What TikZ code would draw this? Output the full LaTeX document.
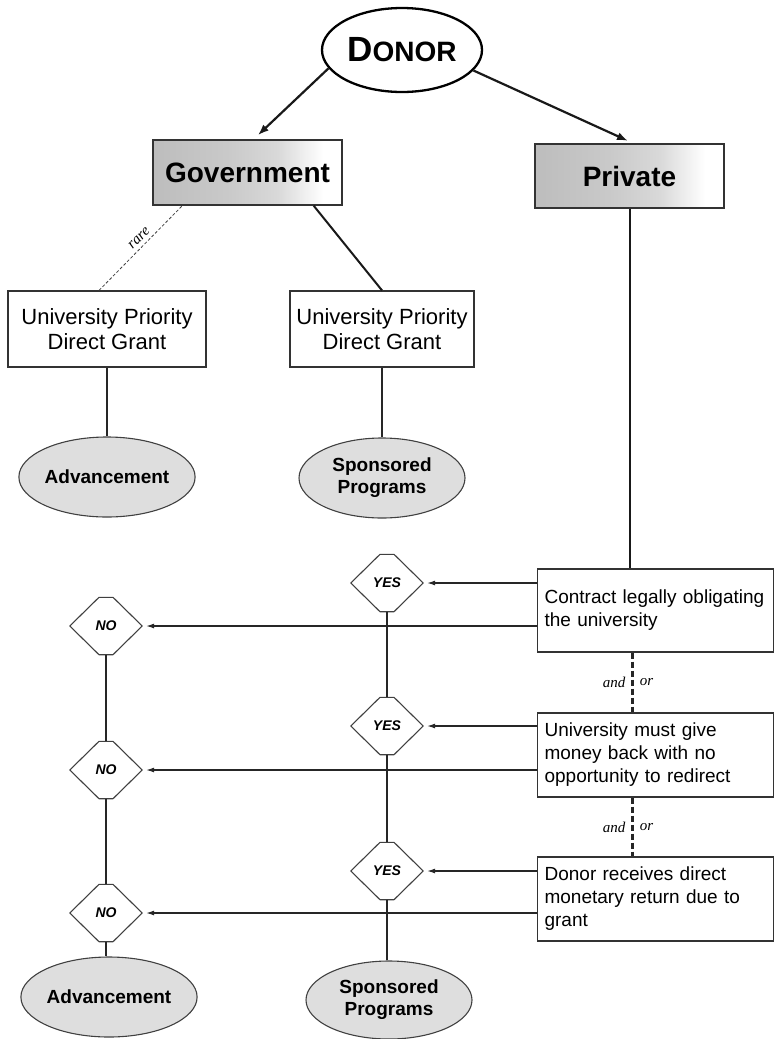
\documentclass[tikz,border=0pt]{standalone}
\usepackage{fontspec}
\setmainfont{Liberation Sans}
\newfontfamily\serifit{Liberation Serif}
\usetikzlibrary{arrows.meta,shapes.geometric}
\pgfdeclarehorizontalshading{boxshade}{100bp}{color(0bp)=(black!26); color(25bp)=(black!26); color(45bp)=(black!21); color(58bp)=(black!15); color(70bp)=(white); color(100bp)=(white)}
\begin{document}
\begin{tikzpicture}[x=1pt,y=-1pt,
  thin line/.style={line width=1.1pt, draw=black!85},
  thick line/.style={line width=2.2pt, draw=black!90},
  big arrow/.style={thick line, -{Latex[length=11pt,width=8pt]}, shorten >=6pt},
  small arrow/.style={thin line, -{Latex[length=8pt,width=5pt]}, shorten >=4pt},
  andor/.style={line width=2.6pt, draw=black!85, dash pattern=on 6pt off 3pt},
  catbox/.style={rectangle, draw=black!80, line width=1.3pt, shading=boxshade,
    minimum width=189pt, minimum height=65pt, inner sep=0pt,
    font=\fontsize{28}{30}\selectfont\bfseries},
  grantbox/.style={rectangle, draw=black!80, line width=1.2pt, fill=white,
    minimum height=76pt, inner sep=0pt, align=center,
    font=\fontsize{22}{25}\selectfont},
  condbox/.style={rectangle, draw=black!80, line width=1.2pt, fill=white, anchor=west,
    text width=222pt, inner xsep=7pt, inner ysep=0pt, minimum height=84pt, align=left,
    font=\fontsize{19}{23}\selectfont},
  officeell/.style={ellipse, draw=black!75, line width=1.1pt, fill=black!13,
    inner sep=0pt, align=center, font=\fontsize{19}{22}\selectfont\bfseries},
  hexnode/.style={rectangle, minimum width=72pt, minimum height=57pt, inner sep=0pt,
    font=\fontsize{14}{14}\selectfont\bfseries\itshape},
  hexline/.style={line width=1.1pt, draw=black!75},
  smalllabel/.style={font=\fontsize{15}{15}\selectfont\serifit\itshape, inner sep=2pt}
]
\useasboundingbox (0,0) rectangle (774,1039);

% top level
\node[ellipse, draw=black, line width=2.3pt, fill=white, minimum width=160pt, minimum height=84pt, inner sep=0pt,
  font=\bfseries] (donor) at (402,50) {{\fontsize{35}{35}\selectfont D}{\fontsize{28}{28}\selectfont ONOR}};
\node[catbox] (gov) at (247.5,172.5) {Government};
\node[catbox, minimum height=64pt] (private) at (629.5,176) {Private};

% government branch
\node[grantbox, minimum width=198pt] (updgL) at (107,329) {University Priority\\Direct Grant};
\node[grantbox, minimum width=184pt] (updgR) at (382,329) {University Priority\\Direct Grant};
\node[officeell, minimum width=170pt, minimum height=80pt] (adv1) at (107,477) {Advancement};
\node[officeell, minimum width=166pt, minimum height=80pt] (spons1) at (382,478) {Sponsored\\Programs};

% private branch conditions
\node[condbox, minimum height=83pt] (contract) at (537,610.5) {Contract legally obligating\\the university};
\node[condbox] (moneyback) at (537,755) {University must give\\money back with no\\opportunity to redirect};
\node[condbox] (monreturn) at (537,899) {Donor receives direct\\monetary return due to\\grant};

% decisions
\node[hexnode] (yes1) at (387,583) {YES};
\node[hexnode] (yes2) at (387,726) {YES};
\node[hexnode] (yes3) at (387,871) {YES};
\node[hexnode] (no1) at (106,626) {NO};
\node[hexnode] (no2) at (106,770) {NO};
\node[hexnode] (no3) at (106,913) {NO};
\foreach \n in {yes1,yes2,yes3,no1,no2,no3}
  \draw[hexline] (\n.west) -- ([xshift=-7pt]\n.north) -- ([xshift=7pt]\n.north) -- (\n.east)
    -- ([xshift=7pt]\n.south) -- ([xshift=-7pt]\n.south) -- cycle;

\node[officeell, minimum width=168pt, minimum height=80pt] (adv2) at (109,997) {Advancement};
\node[officeell, minimum width=166pt, minimum height=78pt] (spons2) at (389,1000) {Sponsored\\Programs};

% connectors: top
\draw[big arrow] (donor.194) -- ([xshift=6pt]gov.north);
\draw[big arrow] (donor.344) -- ([xshift=4pt]private.north);
\draw[line width=0.8pt, draw=black!75, dash pattern=on 3pt off 2pt]
  ([xshift=-8pt]updgL.north) -- node[smalllabel, sloped, above, pos=0.55, yshift=2pt] {rare} ([xshift=30pt]gov.south west);
\draw[line width=2pt, draw=black!90] ([xshift=-29pt]gov.south east) -- (updgR.north);
\draw[thin line] (updgL.south) -- (adv1.north);
\draw[thin line] (updgR.south) -- (spons1.north);

% private trunk
\draw[line width=2pt, draw=black!90] (private.south) -- (private.south |- contract.north);

% and/or links
\draw[andor] ([xshift=-23pt]contract.south) -- node[smalllabel, left, xshift=-4pt] {and} node[smalllabel, right, xshift=4pt] {or} ([xshift=-23pt]contract.south |- moneyback.north);
\draw[andor] ([xshift=-23pt]moneyback.south) -- node[smalllabel, left, xshift=-4pt] {and} node[smalllabel, right, xshift=4pt] {or} ([xshift=-23pt]moneyback.south |- monreturn.north);

% YES / NO column links
\draw[thin line] (yes1.south) -- (yes2.north);
\draw[thin line] (yes2.south) -- (yes3.north);
\draw[thin line] (yes3.south) -- (yes3.south |- spons2.north);
\draw[thin line] (no1.south) -- (no2.north);
\draw[thin line] (no2.south) -- (no3.north);
\draw[thin line] (no3.south) -- (no3.south |- adv2.north);

% arrows from conditions
\draw[small arrow] (yes1 -| contract.west) -- (yes1.east);
\draw[small arrow] (no1 -| contract.west) -- (no1.east);
\draw[small arrow] (yes2 -| moneyback.west) -- (yes2.east);
\draw[small arrow] (no2 -| moneyback.west) -- (no2.east);
\draw[small arrow] (yes3 -| monreturn.west) -- (yes3.east);
\draw[small arrow] (no3 -| monreturn.west) -- (no3.east);
\end{tikzpicture}
\end{document}
